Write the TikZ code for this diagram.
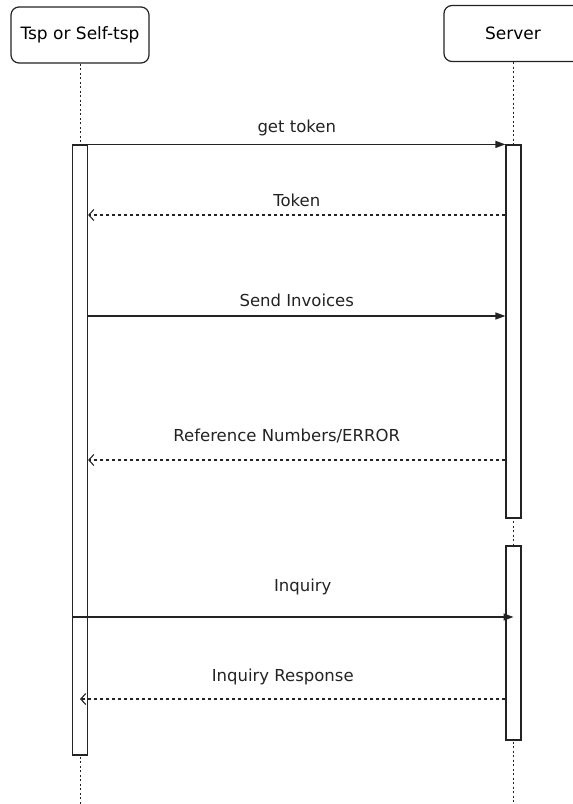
\documentclass[tikz,border=0pt]{standalone}
\usepackage{fontspec}
\setmainfont{DejaVu Sans}
\usetikzlibrary{arrows.meta}
\definecolor{inkgray}{RGB}{35,35,35}

\tikzset{
    actor/.style={draw=inkgray, line width=1.2pt, rounded corners=8pt, fill=white,
        minimum width=138pt, minimum height=56pt, inner sep=0pt, font=\fontsize{17}{20}\selectfont},
    actbar/.style={draw=inkgray, line width=1.2pt, fill=white, minimum width=15pt, inner sep=0pt},
    lifeline/.style={draw=inkgray, line width=1pt, dash pattern=on 2pt off 2.5pt},
    callmsg/.style={draw=inkgray, line width=1.4pt, -{Triangle[length=10pt,width=7pt]}},
    replymsg/.style={draw=inkgray, line width=1.1pt, dash pattern=on 3pt off 3pt, -{Straight Barb[length=5pt,width=11pt]}},
    msglabel/.style={font=\fontsize{16.5}{19}\selectfont, text=inkgray, inner sep=0pt}
}

\begin{document}
\begin{tikzpicture}[x=1pt, y=-1pt]
        \useasboundingbox (0,0) rectangle (573,804);
        \clip (0,0) rectangle (573,804);

        % Teilnehmer
        \node[actor] (tsp) at (80,35) {Tsp or Self-tsp};
        \node[actor] (srv) at (513,33.5) {Server};

        % Lebenslinien
        \draw[lifeline] (tsp.south) -- (80,804);
        \draw[lifeline] (srv.south) -- (513,804);

        % Aktivierungsbalken
        \node[actbar, minimum height=610pt] (tspact) at (80,450) {};
        \node[actbar, minimum height=373pt] (srvactA) at (513.5,331.5) {};
        \node[actbar, minimum height=194pt] (srvactB) at (513.5,643) {};

        % Nachrichten
        \draw[callmsg] (tspact.north east) -- (srvactA.north west)
            node[msglabel, midway, above=8pt] (msgtoken) {get token};
        \draw[replymsg] (srvactA.west |- 0,215) -- (tspact.east |- 0,215)
            node[msglabel, midway, above=8pt] (msgtokenback) {Token};
        \draw[callmsg] (tspact.east |- 0,316) -- (srvactA.west |- 0,316)
            node[msglabel, midway, above=9pt] (msginvoices) {Send Invoices};
        \draw[replymsg] (srvactA.west |- 0,460) -- (tspact.east |- 0,460)
            node[msglabel, midway, xshift=-10pt, above=16pt] (msgrefno) {Reference Numbers/ERROR};
        \draw[callmsg] (tspact.west |- 0,617) -- (srvactB.center |- 0,617)
            node[msglabel, midway, xshift=10pt, above=21pt] (msginquiry) {Inquiry};
        \draw[replymsg] (srvactB.west |- 0,699) -- (tspact.center |- 0,699)
            node[msglabel, midway, xshift=-10pt, above=14pt] (msgresponse) {Inquiry Response};

    \end{tikzpicture}
\end{document}
